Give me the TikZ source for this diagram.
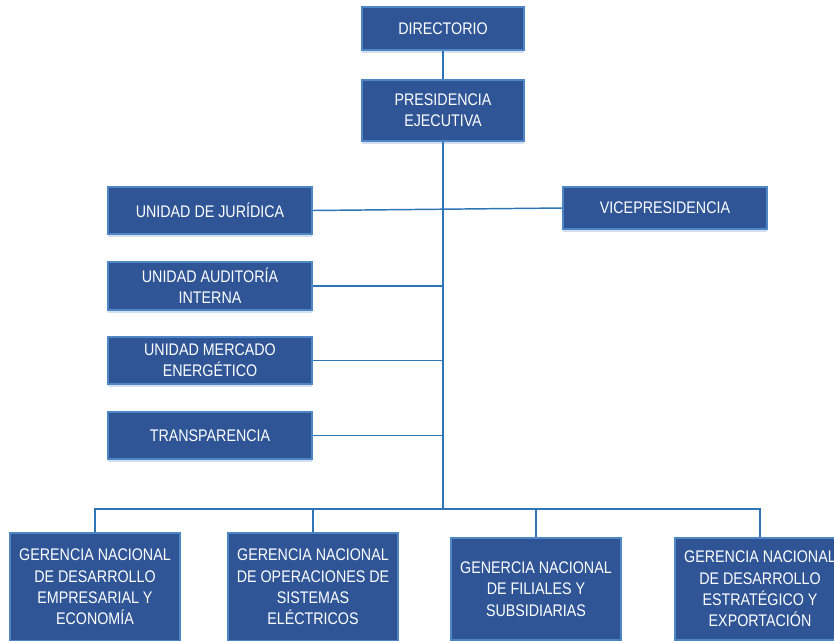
\documentclass[tikz,border=0pt]{standalone}
\usepackage{fontspec}
\setmainfont{Liberation Sans}[FakeStretch=0.85]
\usetikzlibrary{shadows}
\definecolor{boxfill}{HTML}{2F5597}
\definecolor{boxedge}{HTML}{4F86C6}
\definecolor{linec}{HTML}{2E75B6}
\definecolor{shadc}{HTML}{D3DFEE}
\begin{document}
\begin{tikzpicture}[x=0.75pt,y=-0.75pt,
  box/.style={draw=boxedge, line width=0.8pt, fill=boxfill, text=white, align=center,
    inner sep=2pt, font=\fontsize{12.6}{16}\selectfont,
    general shadow={shadow xshift=0pt, shadow yshift=-2.2pt, fill=shadc}},
  conn/.style={draw=linec, line width=1.1pt}]
\useasboundingbox (0,0) rectangle (834,640);
\clip (0,0) rectangle (834,640);
\fill[white] (0,0) rectangle (834,640);
\node[box, minimum width=121.5pt, minimum height=32.25pt] (dir) at (443,28.5) {DIRECTORIO};
\node[box, minimum width=121.5pt, minimum height=45.75pt] (pres) at (443,110.5) {PRESIDENCIA\\EJECUTIVA};
\node[box, minimum width=153pt, minimum height=35.25pt] (jur) at (210,210.5) {UNIDAD DE JURÍDICA};
\node[box, minimum width=153pt, minimum height=31.5pt] (vice) at (665,208) {VICEPRESIDENCIA};
\node[box, minimum width=153pt, minimum height=36pt] (aud) at (210,286) {UNIDAD AUDITORÍA\\INTERNA};
\node[box, minimum width=153pt, minimum height=35.25pt] (mer) at (210,360.5) {UNIDAD MERCADO\\ENERGÉTICO};
\node[box, minimum width=153pt, minimum height=35.25pt] (tra) at (210,435.5) {TRANSPARENCIA};
\node[box, minimum width=127.5pt, minimum height=81pt] (g1) at (95,587) {GERENCIA NACIONAL\\DE DESARROLLO\\EMPRESARIAL Y\\ECONOMÍA};
\node[box, minimum width=127.5pt, minimum height=81pt] (g2) at (313,587) {GERENCIA NACIONAL\\DE OPERACIONES DE\\SISTEMAS\\ELÉCTRICOS};
\node[box, minimum width=127.5pt, minimum height=76.5pt] (g3) at (536,589) {GENERCIA NACIONAL\\DE FILIALES Y\\SUBSIDIARIAS};
\node[box, minimum width=127.5pt, minimum height=76.5pt] (g4) at (760,589) {GERENCIA NACIONAL\\DE DESARROLLO\\ESTRATÉGICO Y\\EXPORTACIÓN};
\coordinate (bus) at (443,509);
\draw[conn] (dir.south) -- (pres.north);
\draw[conn] (pres.south) -- (bus);
\draw[conn] (jur.east) -- (vice.west);
\draw[conn] (aud.east) -- (aud.east -| bus);
\draw[conn] (mer.east) -- (mer.east -| bus);
\draw[conn] (tra.east) -- (tra.east -| bus);
\draw[conn] (g1.north) |- (bus);
\draw[conn] (g2.north) |- (bus);
\draw[conn] (g3.north) |- (bus);
\draw[conn] (g4.north) |- (bus);
\end{tikzpicture}
\end{document}
